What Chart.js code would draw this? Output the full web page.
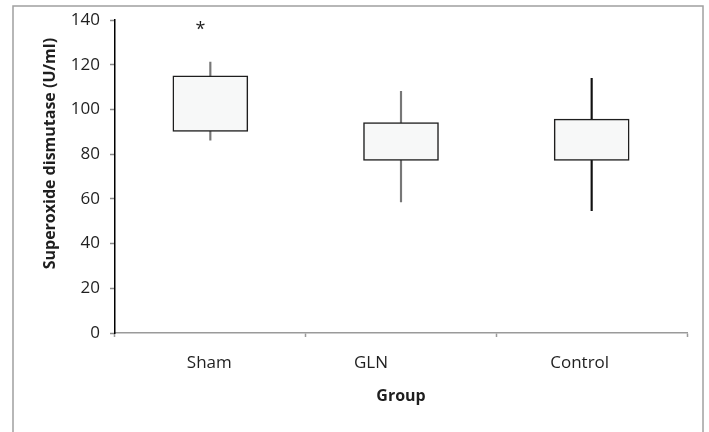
<!DOCTYPE html>
<html>
<head>
<meta charset="utf-8">
<title>Superoxide dismutase by group</title>
<script src="https://cdn.jsdelivr.net/npm/chart.js@4.4.1/dist/chart.umd.min.js"></script>
<style>
    html, body { margin: 0; padding: 0; background: #ffffff; }
    #wrap { width: 709px; height: 432px; position: relative; }
</style>
</head>
<body>
<div id="wrap"><canvas id="sodChart"></canvas></div>
<script>
// Values (U/ml)
const groups = ['Sham', 'GLN', 'Control'];
const boxLow = [90.2, 77.2, 77.2];
const boxHigh = [115.1, 94.2, 95.7];
const whiskerLow = [86.3, 58.7, 54.7];
const whiskerHigh = [121.2, 108.2, 114.0];
const markers = ['*', '', ''];
const markerLevel = [138.5, null, null];
const yMin = 0;
const yMax = 140;
const yStep = 20;

const FONT = "'Open Sans', 'DejaVu Sans', sans-serif";
const TEXT = '#1f1f1f';

// Per-label nudges, the category labels in the original are not centred on the boxes
const labelShift = [-1, -30, -12];

// Frame, category labels, significance marker and y title
const boxPlotExtras = {
    id: 'boxPlotExtras',
    beforeDraw(chart) {
        const ctx = chart.ctx;
        ctx.save();
        ctx.strokeStyle = '#a0a0a0';
        ctx.lineWidth = 1.5;
        ctx.strokeRect(13, 6, 690, 440);
        ctx.restore();
    },
    afterDraw(chart) {
        const ctx = chart.ctx;
        const x = chart.scales.x;
        const y = chart.scales.y;
        const area = chart.chartArea;
        ctx.save();
        ctx.fillStyle = TEXT;
        ctx.textAlign = 'center';
        ctx.textBaseline = 'middle';

        // category labels
        ctx.font = `17px ${FONT}`;
        groups.forEach((g, i) => {
            ctx.fillText(g, x.getPixelForValue(i) + labelShift[i], area.bottom + 30);
        });

        // significance marker
        ctx.font = `18px ${FONT}`;
        markers.forEach((m, i) => {
            if (!m) return;
            ctx.fillText(m, x.getPixelForValue(i) - 10, y.getPixelForValue(markerLevel[i]) + 6);
        });

        // y axis title
        ctx.font = `bold 16px ${FONT}`;
        ctx.translate(50, (area.top + area.bottom) / 2 - 23);
        ctx.rotate(-Math.PI / 2);
        ctx.fillText('Superoxide dismutase (U/ml)', 0, 0);
        ctx.restore();
    }
};

function initializeSodChart() {
    const ctx = document.getElementById('sodChart').getContext('2d');

    new Chart(ctx, {
        type: 'bar',
        data: {
            labels: groups,
            datasets: [
                {
                    label: 'Range',
                    data: groups.map((g, i) => [whiskerLow[i], whiskerHigh[i]]),
                    backgroundColor: ['#777777', '#777777', '#111111'],
                    barThickness: 1.5,
                    grouped: false,
                    order: 2
                },
                {
                    label: 'Interquartile',
                    data: groups.map((g, i) => [boxLow[i], boxHigh[i]]),
                    backgroundColor: '#f7f8f8',
                    borderColor: '#1e1e1e',
                    borderWidth: 1.5,
                    borderSkipped: false,
                    barThickness: 75,
                    grouped: false,
                    order: 1
                }
            ]
        },
        options: {
            responsive: true,
            maintainAspectRatio: false,
            animation: false,
            layout: {
                padding: { left: 0, top: 20, right: 22, bottom: 0 }
            },
            plugins: {
                legend: { display: false },
                tooltip: { enabled: false }
            },
            scales: {
                x: {
                    grid: {
                        offset: true,
                        drawOnChartArea: false,
                        tickLength: 4,
                        tickColor: '#9a9a9a',
                        tickWidth: 1.5
                    },
                    border: { color: '#9a9a9a', width: 1.5 },
                    ticks: { display: false },
                    title: {
                        display: true,
                        text: 'Group',
                        color: TEXT,
                        font: { family: FONT, size: 16, weight: 'bold' },
                        padding: { top: 0, bottom: 26 }
                    },
                    afterFit: (scale) => { scale.height = 99; }
                },
                y: {
                    min: yMin,
                    max: yMax,
                    ticks: {
                        stepSize: yStep,
                        padding: 10,
                        color: TEXT,
                        font: { family: FONT, size: 17 }
                    },
                    grid: {
                        drawOnChartArea: false,
                        tickLength: 5,
                        tickColor: '#8a8a8a',
                        tickWidth: 1.5
                    },
                    border: { color: '#000000', width: 1.5 },
                    afterFit: (scale) => { scale.width = 115; }
                }
            }
        },
        plugins: [boxPlotExtras]
    });
}

document.addEventListener('DOMContentLoaded', initializeSodChart);
</script>
</body>
</html>
